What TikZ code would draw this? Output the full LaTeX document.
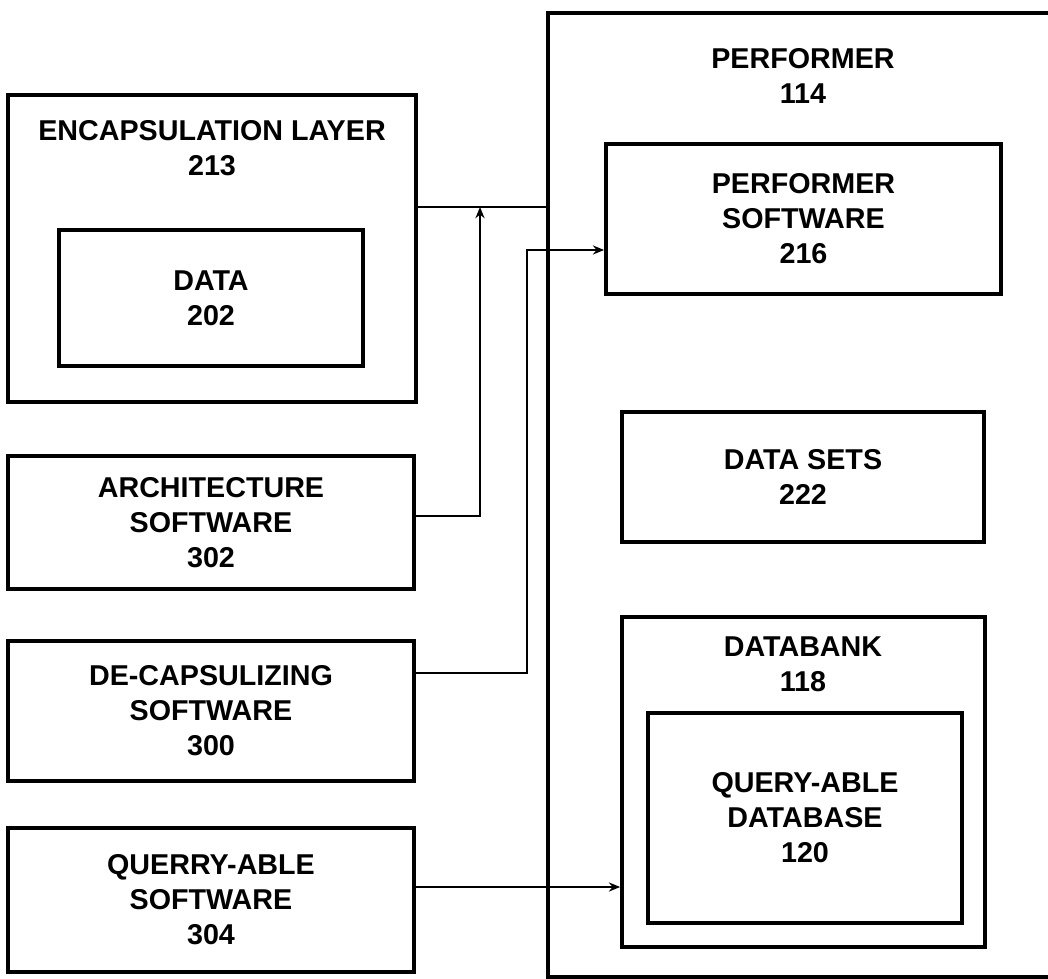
\documentclass[tikz,border=0pt]{standalone}
\usepackage{fontspec}
\setmainfont{Liberation Sans}
\usetikzlibrary{arrows.meta, positioning, calc}

\begin{document}
\begin{tikzpicture}[x=0.025cm, y=-0.025cm,
  box/.style={draw, line width=2.6pt, align=center, inner sep=0pt, font=\fontsize{20.4}{24.9}\selectfont\bfseries},
  ttl/.style={align=center, inner sep=0pt, font=\fontsize{20.4}{24.9}\selectfont\bfseries},
  wire/.style={line width=1.8pt},
  feed/.style={line width=1.6pt, -{Stealth[length=8pt, width=6.5pt]}}]
  \useasboundingbox (0,0) rectangle (1048,979);

  % Left column
  \node[box, minimum width=10.2cm, minimum height=7.675cm] (encap) at (212, 248.5) {};
  \node[ttl] (encaptitle) at (212, 148) {ENCAPSULATION LAYER\\213};
  \node[box, minimum width=7.6cm, minimum height=3.4cm] (data) at (211, 298) {DATA\\202};

  \node[box, minimum width=10.15cm, minimum height=3.325cm] (arch) at (211, 522.5) {ARCHITECTURE\\SOFTWARE\\302};
  \node[box, minimum width=10.15cm, minimum height=3.5cm] (decap) at (211, 711) {DE-CAPSULIZING\\SOFTWARE\\300};
  \node[box, minimum width=10.15cm, minimum height=3.6cm] (querry) at (211, 900) {QUERRY-ABLE\\SOFTWARE\\304};

  % Performer and what it holds
  \node[box, minimum width=12.8cm, minimum height=24.1cm] (perf) at (804, 495) {};
  \node[ttl] (perftitle) at (803, 75.5) {PERFORMER\\114};
  \node[box, minimum width=9.875cm, minimum height=3.75cm] (perfsw) at (803.5, 219) {PERFORMER\\SOFTWARE\\216};
  \node[box, minimum width=9.05cm, minimum height=3.25cm] (datasets) at (803, 477) {DATA SETS\\222};
  \node[box, minimum width=9.075cm, minimum height=8.25cm] (databank) at (803.5, 782) {};
  \node[ttl] (banktitle) at (803, 664) {DATABANK\\118};
  \node[box, minimum width=7.85cm, minimum height=5.25cm] (qdb) at (805, 818) {QUERY-ABLE\\DATABASE\\120};

  % Connectors
  \coordinate (join) at (480, 207);
  \draw[wire] (encap.east |- join) -- (perf.west |- join);
  \draw[feed] (arch.east |- 0, 516) -| (join);
  \draw[feed] (decap.east |- 0, 673) -| (527, 250) -- (perfsw.west |- 0, 250);
  \draw[feed] (querry.east |- 0, 887) -- (databank.west |- 0, 887);
\end{tikzpicture}
\end{document}
